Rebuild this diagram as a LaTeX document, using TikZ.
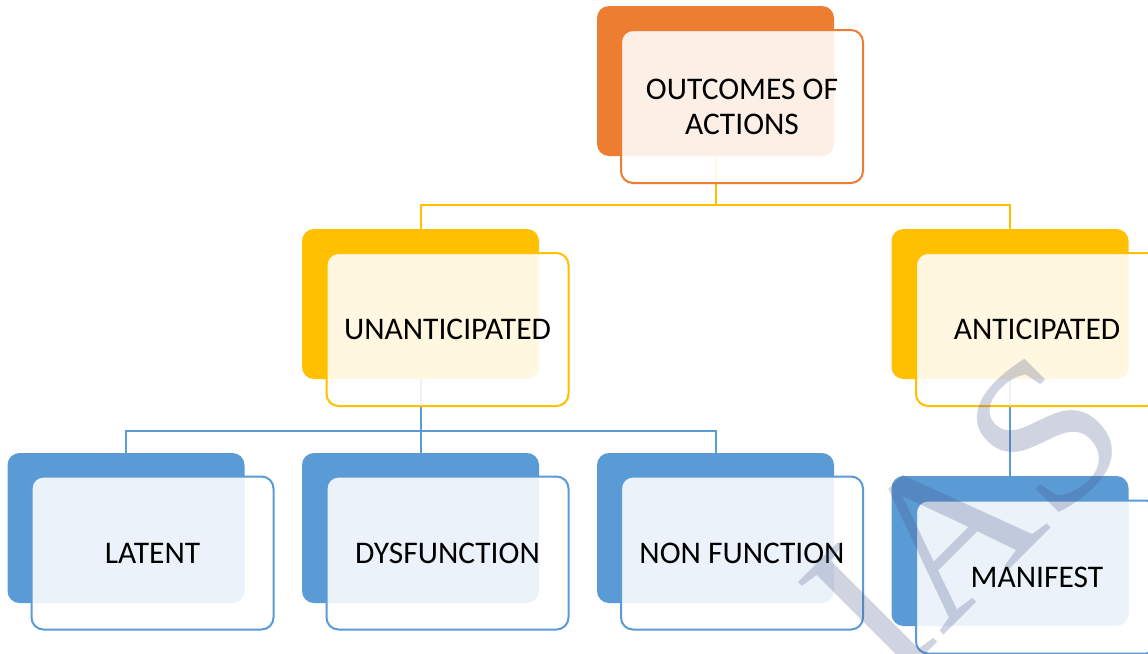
\documentclass[tikz,border=0pt]{standalone}
\usepackage{fontspec}
\setmainfont{Carlito}
\newfontfamily\markfont{Liberation Serif}
\definecolor{hOrange}{HTML}{ED7D31}
\definecolor{hGold}{HTML}{FFC000}
\definecolor{hBlue}{HTML}{5B9BD5}
\definecolor{hMark}{RGB}{70,82,135}
\tikzset{
  backbox/.style={rectangle, rounded corners=12pt, inner sep=0pt,
    minimum width=237pt, minimum height=150pt, fill=#1, draw=none},
  frontbox/.style={rectangle, rounded corners=12pt, inner sep=0pt,
    minimum width=242pt, minimum height=153pt, draw=#1, line width=2pt,
    fill=white, fill opacity=0.88, text opacity=1, align=center,
    font=\fontsize{31.5}{35}\selectfont},
  link/.style={draw=#1, line width=2pt},
}
\begin{document}
\begin{tikzpicture}[x=1pt,y=-1pt]
  \clip (0,0) rectangle (1148,653);
  \fill[white] (0,0) rectangle (1148,653);

  % back panels
  \node[backbox=hOrange] (outB) at (715.5,81)  {};
  \node[backbox=hGold]   (unB)  at (420.5,304) {};
  \node[backbox=hGold]   (anB)  at (1010,304)  {};
  \node[backbox=hBlue]   (latB) at (126,528)   {};
  \node[backbox=hBlue]   (dysB) at (420.5,528) {};
  \node[backbox=hBlue]   (nonB) at (715.5,528) {};
  \node[backbox=hBlue]   (manB) at (1010,551)  {};

  % connectors
  \draw[link=hGold] (outB.south) -- ++(0,49) -| (unB.north);
  \draw[link=hGold] (outB.south) -- ++(0,49) -| (anB.north);
  \draw[link=hBlue] (unB.south) -- ++(0,52) -| (latB.north);
  \draw[link=hBlue] (unB.south) -- (dysB.north);
  \draw[link=hBlue] (unB.south) -- ++(0,52) -| (nonB.north);
  \draw[link=hBlue] (anB.south) -- (manB.north);

  % front panels with labels
  \node[frontbox=hOrange] (outF) at (742,106.5)  {OUTCOMES OF\\ACTIONS};
  \node[frontbox=hGold]   (unF)  at (447.5,329.5) {UNANTICIPATED};
  \node[frontbox=hGold]   (anF)  at (1037,329.5)  {ANTICIPATED};
  \node[frontbox=hBlue]   (latF) at (152.5,553)   {LATENT};
  \node[frontbox=hBlue]   (dysF) at (447.5,553)   {DYSFUNCTION};
  \node[frontbox=hBlue]   (nonF) at (742,553)     {NON FUNCTION};
  \node[frontbox=hBlue]   (manF) at (1037,577)    {MANIFEST};

  % watermark
  \node[rotate=45, text=hMark, opacity=0.25,
        font=\markfont\fontsize{215}{215}\selectfont] (mark) at (965,515) {IAS};
\end{tikzpicture}
\end{document}
